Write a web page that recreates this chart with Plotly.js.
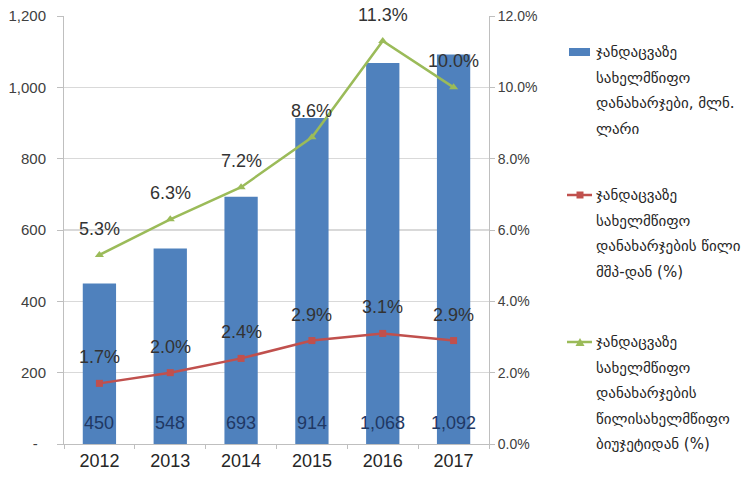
<!DOCTYPE html>
<html>
<head>
<meta charset="utf-8">
<script src="https://cdn.plot.ly/plotly-3.0.1.min.js"></script>
<style>html,body{margin:0;padding:0;background:#fff;}#chart{width:752px;height:488px;}</style>
</head>
<body>
<div id="chart"></div>
<script>
// ---- data ----
const years = ['2012', '2013', '2014', '2015', '2016', '2017'];
const spending = [450, 548, 693, 914, 1068, 1092];          // mln GEL
const gdpShare = [1.7, 2.0, 2.4, 2.9, 3.1, 2.9];            // % of GDP
const budgetShare = [5.3, 6.3, 7.2, 8.6, 11.3, 10.0];       // % of state budget
const leftTickVals = [0, 200, 400, 600, 800, 1000, 1200];
const leftTickText = ['-\u00a0\u00a0', '200', '400', '600', '800', '1,000', '1,200'];
const rightTickVals = [0, 2, 4, 6, 8, 10, 12];
const rightTickText = ['0.0%', '2.0%', '4.0%', '6.0%', '8.0%', '10.0%', '12.0%'];
const legendSpending = ['ჯანდაცვაზე', 'სახელმწიფო', 'დანახარჯები, მლნ.', 'ლარი'];
const legendGdp = ['ჯანდაცვაზე', 'სახელმწიფო', 'დანახარჯების წილი', 'მშპ-დან (%)'];
const legendBudget = ['ჯანდაცვაზე', 'სახელმწიფო', 'დანახარჯების', 'წილისახელმწიფო', 'ბიუჯეტიდან (%)'];

// ---- layout geometry (pixels) ----
const W = 752, H = 488;
const M = {l: 64, r: 263, t: 16, b: 44};
const PW = W - M.l - M.r, PH = H - M.t - M.b;
const px = x => (x - M.l) / PW;
const py = y => (H - M.b - y) / PH;

const BLUE = '#4F81BD', RED = '#C0504D', GREEN = '#9BBB59';
const FONT = 'Liberation Sans, Arial, sans-serif';
const GEO = 'DejaVu Sans, sans-serif';

const traces = [
  {type: 'bar', x: years, y: spending, marker: {color: BLUE}, yaxis: 'y', showlegend: false, hoverinfo: 'none'},
  {type: 'scatter', mode: 'lines+markers', x: years, y: gdpShare, yaxis: 'y2',
   line: {color: RED, width: 2.5}, marker: {symbol: 'square', size: 7, color: RED}, showlegend: false, hoverinfo: 'none'},
  {type: 'scatter', mode: 'lines+markers', x: years, y: budgetShare, yaxis: 'y2',
   line: {color: GREEN, width: 2.5}, marker: {symbol: 'triangle-up', size: 8, color: GREEN}, showlegend: false, hoverinfo: 'none'}
];

const annotations = [];
years.forEach((yr, i) => {
  annotations.push({x: i, y: 0, xref: 'x', yref: 'y', text: spending[i].toLocaleString('en-US'),
    showarrow: false, yanchor: 'middle', yshift: 21, font: {family: FONT, size: 18, color: '#1F3864'}});
  annotations.push({x: i, y: gdpShare[i], xref: 'x', yref: 'y2', text: gdpShare[i].toFixed(1) + '%',
    showarrow: false, yanchor: 'middle', yshift: 26, font: {family: FONT, size: 18, color: '#333333'}});
  annotations.push({x: i, y: budgetShare[i], xref: 'x', yref: 'y2', text: budgetShare[i].toFixed(1) + '%',
    showarrow: false, yanchor: 'middle', yshift: 26, font: {family: FONT, size: 18, color: '#333333'}});
});

// legend (manual)
const legendBlocks = [
  {lines: legendSpending, y0: 52},
  {lines: legendGdp, y0: 195},
  {lines: legendBudget, y0: 342}
];
const LINE_H = 25.5;
legendBlocks.forEach(b => {
  b.lines.forEach((t, j) => {
    annotations.push({xref: 'paper', yref: 'paper', x: px(594), y: py(b.y0 + j * LINE_H), text: t,
      xanchor: 'left', yanchor: 'middle', showarrow: false, font: {family: GEO, size: 15, color: '#262626'}});
  });
});

const shapes = [
  {type: 'rect', xref: 'paper', yref: 'paper', x0: px(569), x1: px(590), y0: py(48), y1: py(56),
   fillcolor: BLUE, line: {width: 0}},
  {type: 'line', xref: 'paper', yref: 'paper', x0: px(567), x1: px(592), y0: py(195), y1: py(195),
   line: {color: RED, width: 2.5}},
  {type: 'rect', xref: 'paper', yref: 'paper', x0: px(576.5), x1: px(583.5), y0: py(191.5), y1: py(198.5),
   fillcolor: RED, line: {width: 0}},
  {type: 'line', xref: 'paper', yref: 'paper', x0: px(567), x1: px(592), y0: py(342), y1: py(342),
   line: {color: GREEN, width: 2.5}},
  {type: 'path', xref: 'paper', yref: 'paper',
   path: `M ${px(575.5)} ${py(346)} L ${px(584.5)} ${py(346)} L ${px(580)} ${py(338)} Z`,
   fillcolor: GREEN, line: {width: 0}}
];

const layout = {
  width: W, height: H,
  margin: M,
  paper_bgcolor: '#ffffff', plot_bgcolor: '#ffffff',
  bargap: 0.53,
  showlegend: false,
  xaxis: {type: 'category', range: [-0.5, years.length - 0.5], autorange: false,
    showgrid: false, showline: true, linecolor: '#BFBFBF', linewidth: 1,
    ticks: 'outside', tickson: 'boundaries', ticklen: 4, tickcolor: '#BFBFBF', tickangle: 0,
    tickfont: {family: FONT, size: 18, color: '#262626'}},
  yaxis: {range: [0, 1200], tickvals: leftTickVals, ticktext: leftTickText,
    showgrid: true, gridcolor: '#D9D9D9', gridwidth: 1.2, zeroline: false,
    showline: true, linecolor: '#BFBFBF', ticks: 'outside', ticklen: 6, tickcolor: '#BFBFBF',
    ticklabelstandoff: 8,
    tickfont: {family: FONT, size: 15, color: '#404040'}},
  yaxis2: {range: [0, 12], overlaying: 'y', side: 'right', tickvals: rightTickVals, ticktext: rightTickText,
    showgrid: false, zeroline: false,
    showline: true, linecolor: '#BFBFBF', ticks: 'outside', ticklen: 5, tickcolor: '#BFBFBF',
    tickfont: {family: FONT, size: 14, color: '#404040'}},
  annotations: annotations,
  shapes: shapes
};

Plotly.newPlot('chart', traces, layout, {displayModeBar: false, staticPlot: true});
</script>
</body>
</html>
